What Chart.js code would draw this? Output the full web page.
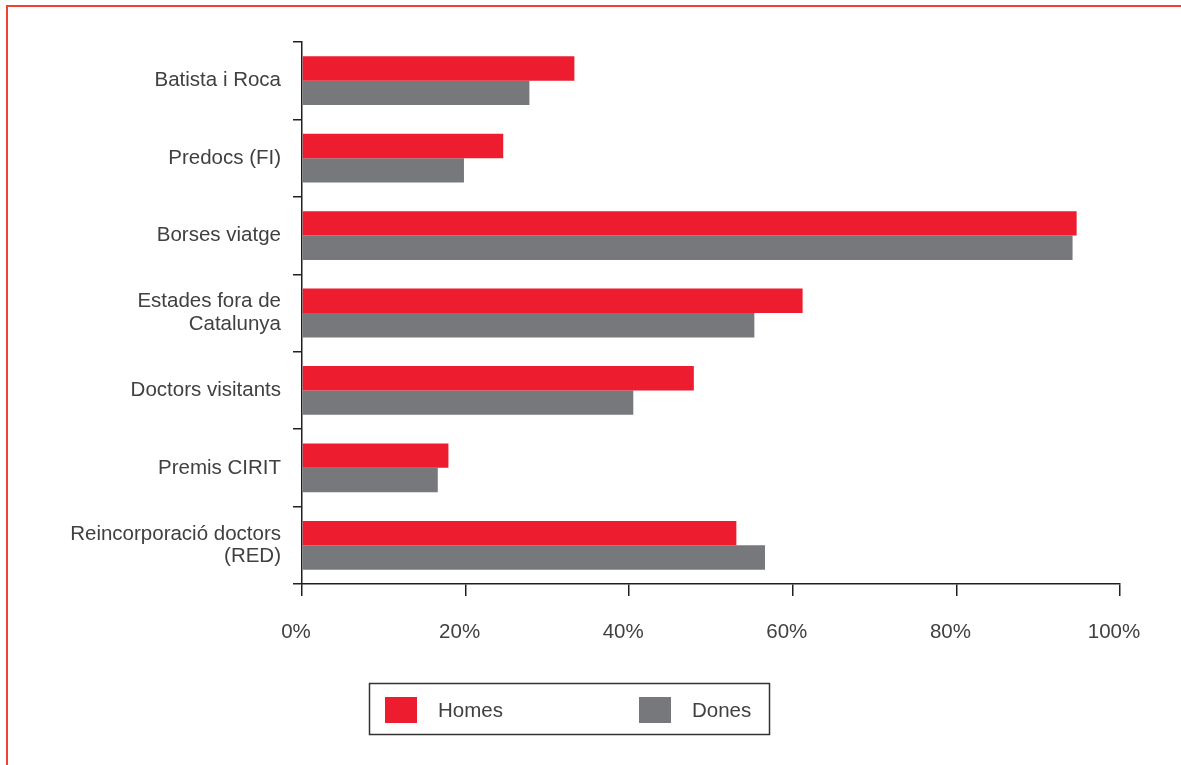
<!DOCTYPE html>
<html>
<head>
<meta charset="utf-8">
<script src="https://cdn.jsdelivr.net/npm/chart.js@4"></script>
<style>
  html, body { margin: 0; padding: 0; background: #fff; }
  #wrap { width: 1181px; height: 765px; position: relative; }
</style>
</head>
<body>
<div id="wrap"><canvas id="grafic"></canvas></div>
<script>
const categories = [
  'Batista i Roca',
  'Predocs (FI)',
  'Borses viatge',
  ['Estades fora de', 'Catalunya'],
  'Doctors visitants',
  'Premis CIRIT',
  ['Reincorporació doctors', '(RED)'],
];
const homes = [33.3, 24.6, 94.7, 61.2, 47.9, 17.9, 53.1];
const dones = [27.8, 19.8, 94.2, 55.3, 40.5, 16.6, 56.6];
const xTickValues = [0, 20, 40, 60, 80, 100];

const RED = '#ed1c2f';
const GREY = '#77787c';
const INK = '#231f20';
const TEXT = '#404040';
const FONT = { family: "'Liberation Sans', Arial, sans-serif", size: 20.5 };

// red frame lines (top + left) like the original page
const framePlugin = {
  id: 'frame',
  beforeDraw(chart) {
    const ctx = chart.ctx;
    ctx.save();
    ctx.strokeStyle = '#ef4136';
    ctx.lineWidth = 2;
    ctx.beginPath();
    ctx.moveTo(7, 765);
    ctx.lineTo(7, 6);
    ctx.lineTo(1181, 6);
    ctx.stroke();
    ctx.restore();
  },
};

// boxed legend under the chart
const boxLegendPlugin = {
  id: 'boxLegend',
  afterDraw(chart) {
    const ctx = chart.ctx;
    const bx = 369.5, by = 683.5, bw = 400, bh = 51;
    ctx.save();
    ctx.strokeStyle = '#333';
    ctx.lineWidth = 1.5;
    ctx.strokeRect(bx, by, bw, bh);
    chart.data.datasets.forEach((ds, i) => {
      const x = 385 + i * 254;
      ctx.fillStyle = ds.backgroundColor;
      ctx.fillRect(x, 697, 32, 26);
      ctx.fillStyle = TEXT;
      ctx.font = FONT.size + 'px ' + FONT.family;
      ctx.textBaseline = 'middle';
      ctx.textAlign = 'left';
      ctx.fillText(ds.label, x + 53, 711);
    });
    ctx.restore();
  },
};

new Chart(document.getElementById('grafic'), {
  type: 'bar',
  data: {
    labels: categories,
    datasets: [
      { label: 'Homes', data: homes, backgroundColor: RED },
      { label: 'Dones', data: dones, backgroundColor: GREY },
    ],
  },
  options: {
    indexAxis: 'y',
    responsive: true,
    maintainAspectRatio: false,
    animation: false,
    categoryPercentage: 0.63,
    barPercentage: 1,
    layout: { padding: { left: 0, top: 42, right: 61, bottom: 121 } },
    plugins: {
      legend: { display: false },
      tooltip: { enabled: false },
    },
    scales: {
      x: {
        type: 'linear',
        min: 0,
        max: 100,
        afterBuildTicks: (s) => { s.ticks = xTickValues.map((v) => ({ value: v })); },
        afterFit: (s) => { s.height = 60; },
        grid: { drawOnChartArea: false, tickLength: 12, color: INK, lineWidth: 1.5 },
        border: { color: INK, width: 1.5 },
        ticks: {
          callback: (v) => v + '%',
          font: FONT,
          color: TEXT,
          padding: 24,
          labelOffset: -6,
          maxRotation: 0,
        },
      },
      y: {
        afterFit: (s) => { s.width = 302; },
        grid: { drawOnChartArea: false, offset: true, tickLength: 9, color: INK, lineWidth: 1.5 },
        border: { color: INK, width: 1.5 },
        ticks: {
          font: { ...FONT, lineHeight: 1.1 },
          color: TEXT,
          padding: 12,
        },
      },
    },
  },
  plugins: [framePlugin, boxLegendPlugin],
});
</script>
</body>
</html>
